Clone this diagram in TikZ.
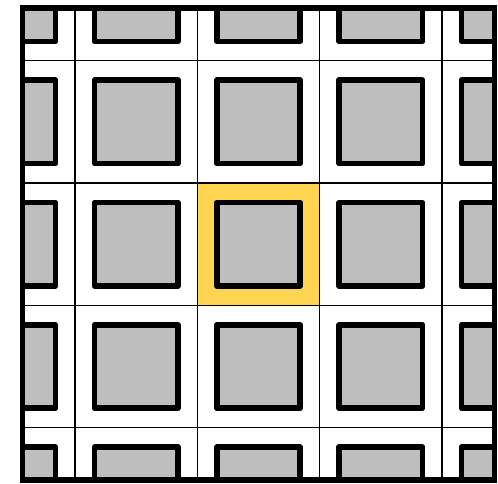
\documentclass[tikz,border=0pt]{standalone}
\definecolor{cellgray}{RGB}{190,190,190}
\definecolor{hilite}{RGB}{255,212,80}
\tikzset{
  block/.style={draw=black, fill=cellgray, line width=5.6pt, line join=round},
  road/.style={line width=1.3pt},
  frame/.style={line width=5.8pt},
}
\begin{document}
\begin{tikzpicture}[x=122.3pt, y=122.3pt]
  \useasboundingbox (-2.114,-1.953) rectangle (1.958,1.997);
  \fill[hilite] (-0.5,-0.5) rectangle (0.5,0.5);
  \begin{scope}
    \clip (-1.93,-1.93) rectangle (1.93,1.93);
    \foreach \t in {-1.5,-0.5,0.5,1.5} {
      \draw[road] (\t,-2) -- (\t,2);
      \draw[road] (-2,\t) -- (2,\t);
    }
    \foreach \i in {-2,...,2}
      \foreach \j in {-2,...,2}
        \draw[block] (\i-0.341,\j-0.341) rectangle (\i+0.341,\j+0.341);
  \end{scope}
  \draw[frame] (-1.93,-1.93) rectangle (1.93,1.93);
\end{tikzpicture}
\end{document}
